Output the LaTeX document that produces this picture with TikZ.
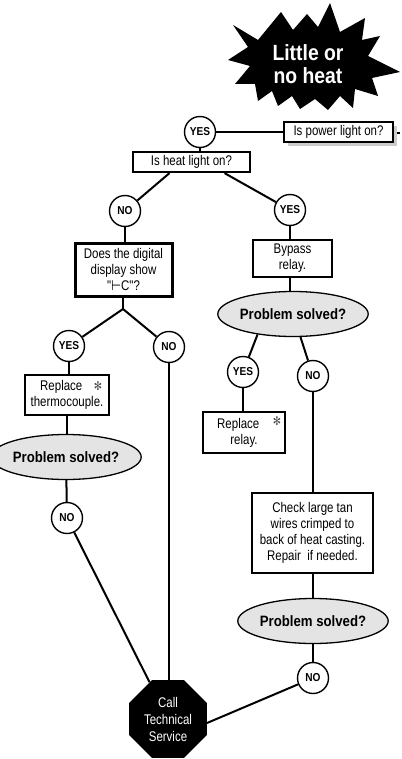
\documentclass[tikz,border=0pt]{standalone}
\usepackage{fontspec}
\setmainfont{Liberation Sans}[FakeStretch=0.88]
\newfontfamily\nar{Liberation Sans}[FakeStretch=0.82]
\newfontfamily\dv{DejaVu Sans}[FakeStretch=0.82]
\usetikzlibrary{shapes.geometric,shadows,calc}
\definecolor{psgray}{HTML}{E4E4E4}
\begin{document}
\begin{tikzpicture}[x=1pt,y=-1pt,
  conn/.style={line width=2pt},
  box/.style={draw,line width=2.2pt,fill=white,align=center,inner sep=1pt,
    font=\nar\fontsize{14}{16}\selectfont},
  yn/.style={circle,draw,line width=1.4pt,fill=white,minimum size=31pt,inner sep=0pt,
    font=\fontsize{11.5}{12}\selectfont\bfseries},
  ps/.style={ellipse,draw,line width=1.3pt,fill=psgray,minimum width=120pt,minimum height=45pt,
    inner sep=0pt,font=\fontsize{15}{16}\selectfont\bfseries},
  star/.style={gray!60!black,font=\dv\fontsize{12}{12}\selectfont}
]
\useasboundingbox (0,0) rectangle (401,759);

% starburst
\fill[black] (233,25) -- (258,40) -- (281,12) -- (293,30) -- (307,14) -- (318,27) -- (330,3)
  -- (340,32) -- (365,18) -- (362,40) -- (380,36) -- (368,56) -- (400,72) -- (372,78)
  -- (378,96) -- (355,89) -- (353,108) -- (340,96) -- (328,110) -- (315,99) -- (300,109)
  -- (292,96) -- (278,106) -- (272,91) -- (258,101) -- (255,84) -- (235,84) -- (250,66)
  -- (228,60) -- (248,47) -- cycle;
\node[text=white,align=center,font=\fontsize{22}{23}\selectfont\bfseries] (title) at (308,64) {Little or\\no heat};

% top
\node[box,line width=2.6pt,minimum width=109pt,minimum height=20pt,
  drop shadow={shadow xshift=4pt,shadow yshift=-4pt,fill=gray!40,opacity=1}] (power) at (338.5,132) {Is power light on?};
\node[fill=black,minimum width=3pt,minimum height=2.5pt,inner sep=0pt] (dot) at (398.5,133) {};
\node[yn] (yes1) at (200,132) {YES};
\node[box,minimum width=117pt,minimum height=20pt] (heat) at (191.5,162) {Is heat light on?};
\node[yn] (no1) at (125,211) {NO};
\node[yn] (yes2) at (290,210) {YES};

% left branch
\node[box,line width=3pt,minimum width=97pt,minimum height=53pt] (digital) at (123.5,269.5)
  {Does the digital\\display show\\\symbol{"22}{\dv ⊢}C\symbol{"22}?};
\coordinate (fork) at (123,309);
\node[yn] (yes3) at (69,346) {YES};
\node[yn] (no3) at (169,347) {NO};
\node[box,line width=2pt,minimum width=84pt,minimum height=40pt] (thermo) at (67,395) {Replace\phantom{xx}\\thermocouple.};
\node[star] (ast1) at (98,386) {✻};
\node[ps] (ps1) at (66,457) {Problem solved?};
\node[yn] (no4) at (67,518) {NO};

% right branch
\node[box,minimum width=79pt,minimum height=37pt] (bypass) at (292.5,258.5) {Bypass\\relay.};
\node[ps] (ps2) at (293,314) {Problem solved?};
\node[yn] (yes4) at (243,372) {YES};
\node[yn] (no5) at (313,376) {NO};
\node[box,line width=2pt,minimum width=82pt,minimum height=41pt] (relay) at (244,432.5) {Replace\phantom{xx}\\relay.};
\node[star] (ast2) at (277,421) {✻};
\node[box,minimum width=121pt,minimum height=80pt] (check) at (312.5,533)
  {Check large tan\\wires crimped to\\back of heat casting.\\Repair\ \ if needed.};
\node[ps] (ps3) at (313,621) {Problem solved?};
\node[yn] (no6) at (313,678) {NO};

% terminal
\node[regular polygon,regular polygon sides=8,fill=black,minimum size=84pt,inner sep=0pt,
  text=white,align=center,font=\nar\fontsize{14}{17}\selectfont] (oct) at (168,719)
  {Call\\Technical\\Service};

% connectors
\draw[conn] (yes1) -- (power);
\draw[conn] (yes1) -- (yes1 |- heat.north);
\draw[conn] ([xshift=-22pt]heat.south) -- (no1);
\draw[conn] ([xshift=33pt]heat.south) -- (yes2);
\draw[conn] (no1) -- (no1 |- digital.north);
\draw[conn] (digital.south -| fork) -- (fork);
\draw[conn] (fork) -- (yes3);
\draw[conn] (fork) -- (no3);
\draw[conn] (yes3) -- (yes3 |- thermo.north);
\draw[conn] (thermo.south -| no4) -- (no4 |- ps1.north);
\draw[conn] (ps1) -- (no4);
\draw[conn] (no4) -- (oct);
\draw[conn] (no3) -- (no3 |- oct.north);
\draw[conn] (yes2) -- (yes2 |- bypass.north);
\draw[conn] (yes2 |- bypass.south) -- (yes2 |- ps2.north);
\draw[conn] (ps2.210) -- (yes4);
\draw[conn] (ps2.288) -- (no5);
\draw[conn] (yes4) -- (yes4 |- relay.north);
\draw[conn] (no5) -- (no5 |- check.north);
\draw[conn] (check.south -| no5) -- (no5 |- ps3.north);
\draw[conn] (ps3) -- (no6);
\draw[conn] (no6) -- ([yshift=-4pt]oct.east);
\end{tikzpicture}
\end{document}
